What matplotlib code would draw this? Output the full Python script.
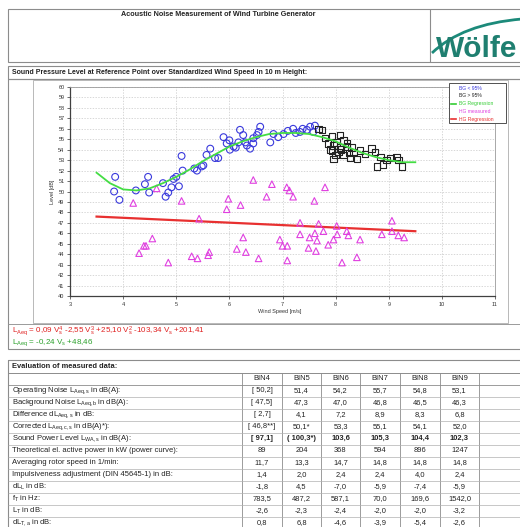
import matplotlib
matplotlib.use("Agg")
import matplotlib.pyplot as plt
from matplotlib.patches import Rectangle, PathPatch
from matplotlib.path import Path

plt.rcParams['font.family'] = ['Liberation Sans', 'DejaVu Sans']
plt.rcParams['mathtext.fontset'] = 'custom'
plt.rcParams['mathtext.rm'] = 'Liberation Sans'
plt.rcParams['mathtext.it'] = 'Liberation Sans'

# --- Dane ---
# BG < 95% (kółka niebieskie)
bg_low_v = [3.85, 3.83, 3.93, 4.24, 4.47, 4.41, 4.49, 4.75, 4.80, 4.85, 4.91, 4.95, 5.00, 5.05,
            5.10, 5.12, 5.34, 5.39, 5.48, 5.51, 5.57, 5.64, 5.73, 5.79, 5.89, 5.95, 6.00, 6.01,
            6.08, 6.12, 6.17, 6.20, 6.26, 6.30, 6.33, 6.39, 6.45, 6.45, 6.52, 6.55, 6.58, 6.77,
            6.83, 6.92, 7.02, 7.10, 7.20, 7.25, 7.33, 7.38, 7.46, 7.52, 7.58, 7.61]
bg_low_l = [51.4, 50.0, 49.2, 50.1, 51.4, 50.7, 49.9, 50.8, 49.5, 49.9, 50.4, 51.2, 51.4, 50.5,
            53.4, 52.0, 52.2, 52.0, 52.4, 52.5, 53.5, 54.1, 53.2, 53.2, 55.2, 54.6, 54.9, 54.0,
            54.3, 54.2, 54.7, 55.9, 55.4, 54.7, 54.4, 54.1, 54.6, 55.1, 55.4, 55.7, 56.2, 54.7,
            55.5, 55.2, 55.5, 55.8, 56.0, 55.6, 55.7, 56.0, 55.9, 56.2, 55.7, 56.3]

# BG > 95% (kwadraty czarne)
bg_high_v = [7.68, 7.74, 7.80, 7.86, 7.90, 7.93, 7.93, 7.96, 7.96, 8.00, 8.02, 8.05, 8.08, 8.08,
             8.10, 8.15, 8.15, 8.21, 8.21, 8.25, 8.27, 8.30, 8.34, 8.40, 8.46, 8.55, 8.68, 8.74,
             8.78, 8.84, 8.89, 8.96, 9.03, 9.15, 9.18, 9.25]
bg_high_l = [56.0, 55.9, 55.1, 54.6, 54.0, 53.9, 55.3, 53.1, 54.4, 53.5, 54.7, 53.8, 55.4, 54.2,
             54.0, 54.9, 53.5, 54.3, 54.6, 53.7, 53.2, 54.2, 53.8, 53.1, 53.9, 53.6, 54.1, 53.8,
             52.4, 53.3, 52.6, 53.0, 53.2, 53.3, 53.0, 52.4]

# HG measured (trójkąty fioletowe)
hg_v = [4.19, 4.63, 5.10, 4.30, 4.39, 4.43, 4.55, 4.85, 5.29, 5.40, 5.43, 5.60, 5.62,
        5.95, 5.98, 6.21, 6.45, 6.70, 6.80, 7.08, 7.13, 7.20, 7.60, 7.80,
        7.33, 7.68, 8.02, 6.14, 6.26, 6.31, 6.55, 6.95, 7.00, 7.09, 7.09, 7.33, 7.49,
        7.51, 7.61, 7.63, 7.65, 7.77, 7.86, 7.96, 8.03, 8.12, 8.21, 8.24, 8.40, 8.46,
        8.87, 9.06, 9.06, 9.18, 9.29]
hg_l = [48.9, 50.3, 49.1, 44.1, 44.8, 44.8, 45.5, 43.2, 43.8, 43.6, 47.4, 43.9, 44.2,
        48.3, 49.3, 48.7, 51.1, 49.5, 50.7, 50.4, 50.1, 49.5, 49.1, 50.4,
        47.0, 46.9, 46.7, 44.5, 45.6, 44.2, 43.6, 45.4, 44.8, 44.8, 43.4, 45.9, 44.6,
        45.6, 46.0, 44.3, 45.3, 46.2, 44.9, 45.4, 45.9, 43.2, 46.2, 45.8, 43.7, 45.4,
        45.9, 47.2, 46.2, 45.8, 45.6]

# Krzywe regresji
bg_reg_v = [3.50, 3.75, 4.00, 4.25, 4.50, 4.75, 5.00, 5.25, 5.50, 5.75, 6.00, 6.25, 6.50,
            6.75, 7.00, 7.25, 7.50, 7.75, 8.00, 8.25, 8.50, 8.75, 9.00, 9.25, 9.50]
bg_reg_l = [51.8, 50.8, 50.2, 50.1, 50.3, 50.8, 51.4, 52.1, 52.9, 53.6, 54.3, 54.8, 55.2,
            55.5, 55.6, 55.6, 55.5, 55.2, 54.8, 54.2, 53.7, 53.3, 53.0, 52.8, 52.8]
hg_reg_v = [3.5, 9.5]
hg_reg_l = [47.6, 46.2]

x_ticks = [3, 4, 5, 6, 7, 8, 9, 10, 11]
y_ticks = list(range(40, 61))

# Tabela
bins = ["BIN4", "BIN5", "BIN6", "BIN7", "BIN8", "BIN9"]
row_labels = [
    r"Operating Noise L$_{\mathrm{Aeq,s}}$ in dB(A):",
    r"Background Noise L$_{\mathrm{Aeq,b}}$ in dB(A):",
    r"Difference dL$_{\mathrm{Aeq,s}}$ in dB:",
    r"Corrected L$_{\mathrm{Aeq,c,s}}$ in dB(A)*):",
    r"Sound Power Level L$_{\mathrm{WA,s}}$ in dB(A):",
    "Theoretical el. active power in kW (power curve):",
    "Averaging rotor speed in 1/min:",
    "Impulsiveness adjustment (DIN 45645-1) in dB:",
    r"dL$_{\mathrm{L}}$ in dB:",
    r"f$_{\mathrm{T}}$ in Hz:",
    r"L$_{\mathrm{T}}$ in dB:",
    r"dL$_{\mathrm{T,a}}$ in dB:",
]
operating = ["[ 50,2]", "51,4", "54,2", "55,7", "54,8", "53,1"]
background = ["[ 47,5]", "47,3", "47,0", "46,8", "46,5", "46,3"]
difference = ["[ 2,7]", "4,1", "7,2", "8,9", "8,3", "6,8"]
corrected = ["[ 46,8**]", "50,1*", "53,3", "55,1", "54,1", "52,0"]
power_level = ["[ 97,1]", "( 100,3*)", "103,6", "105,3", "104,4", "102,3"]
el_power = ["89", "204", "368", "594", "896", "1247"]
rotor_speed = ["11,7", "13,3", "14,7", "14,8", "14,8", "14,8"]
impulsive = ["1,4", "2,0", "2,4", "2,4", "4,0", "2,4"]
dl_l = ["-1,8", "4,5", "-7,0", "-5,9", "-7,4", "-5,9"]
f_t = ["783,5", "487,2", "587,1", "70,0", "169,6", "1542,0"]
l_t = ["-2,6", "-2,3", "-2,4", "-2,0", "-2,0", "-3,2"]
dl_ta = ["0,8", "6,8", "-4,6", "-3,9", "-5,4", "-2,6"]
table_rows = [operating, background, difference, corrected, power_level, el_power,
              rotor_speed, impulsive, dl_l, f_t, l_t, dl_ta]

W, H = 520, 527
fig = plt.figure(figsize=(W / 100, H / 100), dpi=100)


def overlay(z):
    a = fig.add_axes([0, 0, 1, 1], zorder=z)
    a.set_xlim(0, W)
    a.set_ylim(H, 0)
    a.axis('off')
    return a


bg = overlay(0)
fg = overlay(10)   # warstwa nad wykresem (legenda)


def box(x0, y0, x1, y1, ec='#8c8c8c', lw=0.8, fc='none', on=None):
    on = on or bg
    on.add_patch(Rectangle((x0, y0), x1 - x0, y1 - y0, fill=(fc != 'none'),
                           fc=fc, ec=ec, lw=lw))


def line(x0, y0, x1, y1, c='#a0a0a0', lw=0.6):
    bg.plot([x0, x1], [y0, y1], color=c, lw=lw, solid_capstyle='butt')


# Nagłówek dokumentu
box(8, 9, 521, 62)
line(430, 9, 430, 62, c='#8c8c8c', lw=0.8)
bg.text(218, 15, "Acoustic Noise Measurement of Wind Turbine Generator",
        ha='center', va='center', fontsize=5.2, fontweight='bold', color='#222222')
swoosh = Path([(432, 53), (462, 24), (522, 19)], [Path.MOVETO, Path.CURVE3, Path.CURVE3])
bg.add_patch(PathPatch(swoosh, fc='none', ec='#1c8a7a', lw=2.0))
bg.text(436, 57, "Wölfe", ha='left', va='baseline', fontsize=21.5, fontweight='bold',
        color='#1f7f70')

# Tytuł wykresu
box(8, 66, 521, 79)
bg.text(12, 72.5, "Sound Pressure Level at Reference Point over Standardized Wind Speed in 10 m Height:",
        ha='left', va='center', fontsize=5.0, fontweight='bold', color='#222222')

# Ramki panelu wykresu
box(8, 79, 521, 349)
box(33, 80, 508, 323, ec='#b8b8b8', lw=0.7)
line(8, 324, 521, 324, c='#9a9a9a', lw=0.7)

# Wzory regresji
bg.text(12, 331, r"L$_{\mathrm{Aeq}}$ = 0,09 V$_{\mathrm{s}}^{4}$ -2,55 V$_{\mathrm{s}}^{3}$ +25,10 V$_{\mathrm{s}}^{2}$ -103,34 V$_{\mathrm{s}}$ +201,41",
        ha='left', va='center', fontsize=5.8, color='#e02020')
bg.text(12, 343, r"L$_{\mathrm{Aeq}}$ = -0,24 V$_{\mathrm{s}}$ +48,46",
        ha='left', va='center', fontsize=5.8, color='#2aa02a')

# Wykres
ax = fig.add_axes([70 / W, 1 - 296 / H, 425 / W, 209 / H], zorder=5)
ax.set_xlim(3, 11)
ax.set_ylim(40, 60)
ax.set_xticks(x_ticks)
ax.set_yticks(y_ticks)
ax.tick_params(labelsize=4, length=2, width=0.5, pad=2, colors='#333333')
ax.grid(True, color='#c8c8c8', linestyle=(0, (2, 2)), linewidth=0.5)
ax.set_axisbelow(True)
for side in ['top', 'right']:
    ax.spines[side].set_color('#9a9a9a')
    ax.spines[side].set_linewidth(0.6)
for side in ['left', 'bottom']:
    ax.spines[side].set_color('#404040')
    ax.spines[side].set_linewidth(0.9)

ax.plot(hg_reg_v, hg_reg_l, color='#e83030', lw=1.6, zorder=3)
ax.scatter(hg_v, hg_l, marker='^', s=22, facecolors='none', edgecolors='#e040e0',
           linewidths=0.8, zorder=4)
ax.scatter(bg_low_v, bg_low_l, marker='o', s=24, facecolors='none', edgecolors='#3a3adc',
           linewidths=0.8, zorder=4)
ax.scatter(bg_high_v, bg_high_l, marker='s', s=22, facecolors='none', edgecolors='#222222',
           linewidths=0.8, zorder=4)
ax.plot(bg_reg_v, bg_reg_l, color='#44dd44', lw=1.3, zorder=5)

ax.set_ylabel("Level [dB]", fontsize=4, labelpad=2, color='#333333')
bg.text(258, 312, "Wind Speed [m/s]", ha='left', va='center', fontsize=4, color='#333333')

# Legenda
box(449, 83, 506, 123, ec='#505050', lw=0.7, fc='white', on=fg)
leg = [("BG < 95%", '#3a3adc', False), ("BG > 95%", '#222222', False),
       ("BG Regression", '#33cc33', True), ("HG measured", '#e040e0', False),
       ("HG Regression", '#e83030', True)]
for i, (name, col, has_line) in enumerate(leg):
    yy = 88 + i * 7.8
    if has_line:
        fg.plot([451, 456], [yy, yy], color=col, lw=1.2)
    fg.text(459, yy, name, ha='left', va='center', fontsize=3.6, color=col)

# Tabela
col_edges = [8, 242, 282, 321, 360, 400, 440, 479, 521]
top = 360
box(8, top, 521, 540)
bg.text(12, 366.5, "Evaluation of measured data:", ha='left', va='center',
        fontsize=5.4, fontweight='bold', color='#222222')
line(8, 372.5, 521, 372.5, c='#8c8c8c', lw=0.7)
row_h = 12.0
y0 = 384.5
line(8, y0, 521, y0, c='#8c8c8c', lw=0.6)
for xe in col_edges[1:-1]:
    line(xe, 372.5, xe, 540, c='#8c8c8c', lw=0.6)
for j, b in enumerate(bins):
    xc = (col_edges[j + 1] + col_edges[j + 2]) / 2
    bg.text(xc, 378.5, b, ha='center', va='center', fontsize=5.4, color='#222222')
for i, (lab, vals) in enumerate(zip(row_labels, table_rows)):
    yc = y0 + row_h * i + row_h / 2
    line(8, y0 + row_h * (i + 1), 521, y0 + row_h * (i + 1), c='#b0b0b0', lw=0.5)
    bg.text(12, yc, lab, ha='left', va='center', fontsize=5.5, color='#222222')
    bold = 'bold' if i == 4 else 'normal'
    for j, v in enumerate(vals):
        xc = (col_edges[j + 1] + col_edges[j + 2]) / 2
        bg.text(xc, yc, v, ha='center', va='center', fontsize=5.4, color='#222222',
                fontweight=bold)

fig.savefig("out.png", dpi=100)
